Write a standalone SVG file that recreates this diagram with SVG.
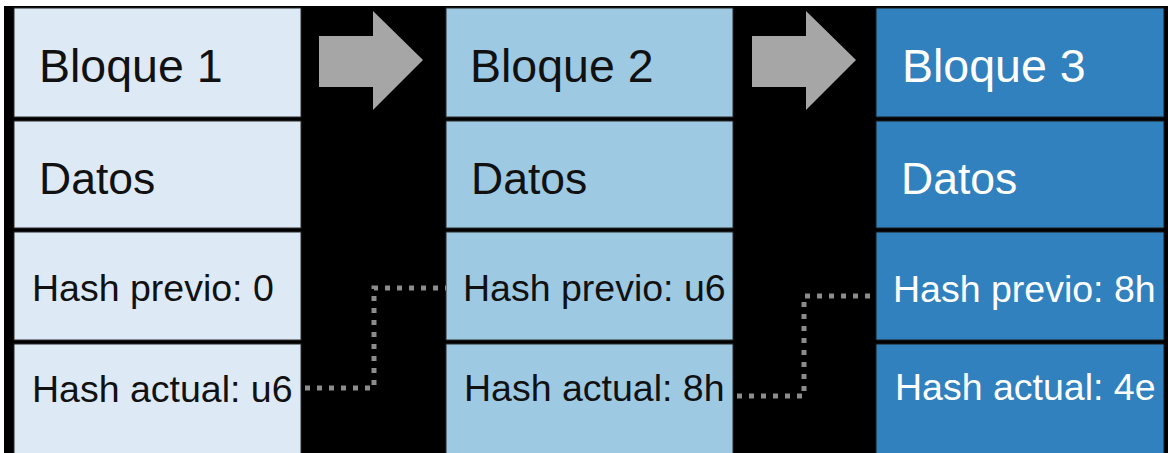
<svg xmlns="http://www.w3.org/2000/svg" width="1171" height="453" viewBox="0 0 1171 453">
<style>
.t{font-family:"Liberation Sans",Arial,sans-serif}
.b1{fill:#DDEAF6;stroke:#2a2a2a;stroke-width:1}
.b2{fill:#9EC9E3;stroke:#2a2a2a;stroke-width:1}
.b3{fill:#3181BF;stroke:#1a1a1a;stroke-width:1}
.dk{fill:#111}
.wh{fill:#fff}
.h{font-size:46.5px}
.d{font-size:44.5px}
.s{font-size:37.5px}
.arrow{fill:#A6A6A6}
.con{fill:none;stroke:#8C8C8C;stroke-width:5;stroke-dasharray:5 7}
</style>
<rect x="0" y="0" width="1171" height="453" fill="#fff"/>
<rect x="4" y="6" width="1164" height="447" fill="#000"/>
<g id="block1">
<rect class="b1" x="14" y="8" width="287" height="109"/>
<rect class="b1" x="14" y="121" width="287" height="107"/>
<rect class="b1" x="14" y="232" width="287" height="108"/>
<rect class="b1" x="14" y="344" width="287" height="112"/>
<text class="t h dk" x="39" y="82">Bloque 1</text>
<text class="t d dk" x="39" y="194">Datos</text>
<text class="t s dk" x="32" y="301">Hash previo: 0</text>
<text class="t s dk" x="32" y="402">Hash actual: u6</text>
</g>
<g id="block2">
<rect class="b2" x="446" y="8" width="287" height="109"/>
<rect class="b2" x="446" y="121" width="287" height="107"/>
<rect class="b2" x="446" y="232" width="287" height="108"/>
<rect class="b2" x="446" y="344" width="287" height="112"/>
<text class="t h dk" x="470" y="82">Bloque 2</text>
<text class="t d dk" x="471" y="194">Datos</text>
<text class="t s dk" x="463" y="301">Hash previo: u6</text>
<text class="t s dk" x="464" y="401">Hash actual: 8h</text>
</g>
<g id="block3">
<rect class="b3" x="876" y="8" width="288" height="109"/>
<rect class="b3" x="876" y="121" width="288" height="107"/>
<rect class="b3" x="876" y="232" width="288" height="108"/>
<rect class="b3" x="876" y="344" width="288" height="112"/>
<text class="t h wh" x="902" y="82">Bloque 3</text>
<text class="t d wh" x="901" y="194">Datos</text>
<text class="t s wh" x="893" y="302">Hash previo: 8h</text>
<text class="t s wh" x="895" y="400">Hash actual: 4e</text>
</g>
<g id="connectors">
<polygon class="arrow" points="319,36 373,36 373,11 423,60 373,110 373,87 319,87"/>
<polygon class="arrow" points="752,36 806,36 806,11 856,60 806,110 806,87 752,87"/>
<path class="con" d="M305,388 H374 V288 H446"/>
<path class="con" d="M737,396 H804 V296 H876"/>
</g>
</svg>
